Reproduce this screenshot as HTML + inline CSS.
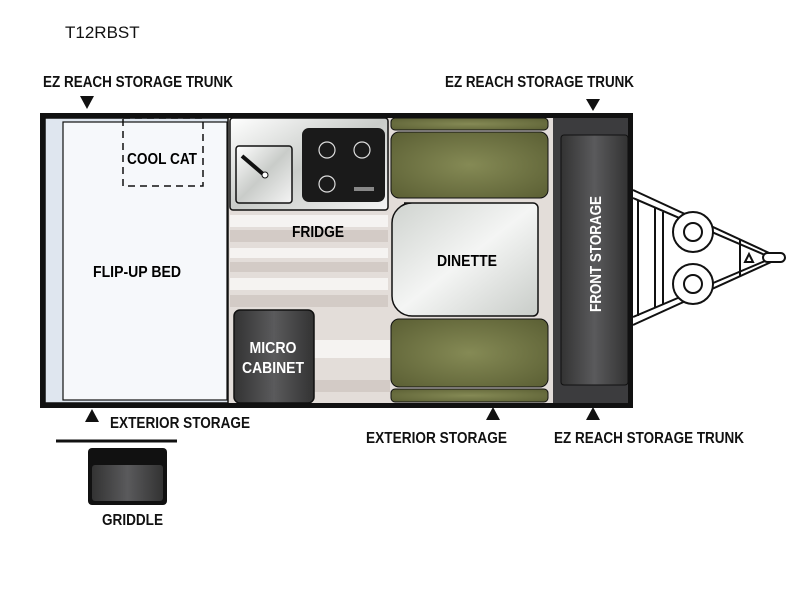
<!DOCTYPE html>
<html><head><style>body{margin:0;background:#fff}svg{display:block}</style></head><body>
<svg width="800" height="600" viewBox="0 0 800 600" xmlns="http://www.w3.org/2000/svg">
<defs>
<linearGradient id="steel" x1="0" y1="0" x2="1" y2="1"><stop offset="0" stop-color="#fff"/><stop offset="0.5" stop-color="#c9ccc9"/><stop offset="1" stop-color="#f4f4f4"/></linearGradient>
<linearGradient id="table" x1="0" y1="0" x2="1" y2="1"><stop offset="0" stop-color="#cfd3cf"/><stop offset="0.5" stop-color="#f4f5f4"/><stop offset="1" stop-color="#c8ccc8"/></linearGradient>
<radialGradient id="olive" cx="0.5" cy="0.5" r="0.7"><stop offset="0" stop-color="#858a55"/><stop offset="1" stop-color="#5b5f34"/></radialGradient>
<linearGradient id="dark" x1="0" y1="0" x2="1" y2="0"><stop offset="0" stop-color="#333"/><stop offset="0.5" stop-color="#5a5a5c"/><stop offset="1" stop-color="#333"/></linearGradient>
</defs>
<g font-family="Liberation Sans, sans-serif">
<text x="65" y="38" font-size="17" fill="#111">T12RBST</text>
<g font-weight="bold" font-size="16" fill="#111">
<text x="43" y="87" textLength="190" lengthAdjust="spacingAndGlyphs">EZ REACH STORAGE TRUNK</text>
<text x="445" y="87" textLength="189" lengthAdjust="spacingAndGlyphs">EZ REACH STORAGE TRUNK</text>
<text x="110" y="428" textLength="140" lengthAdjust="spacingAndGlyphs">EXTERIOR STORAGE</text>
<text x="366" y="443" textLength="141" lengthAdjust="spacingAndGlyphs">EXTERIOR STORAGE</text>
<text x="554" y="443" textLength="190" lengthAdjust="spacingAndGlyphs">EZ REACH STORAGE TRUNK</text>
<text x="102" y="525" textLength="61" lengthAdjust="spacingAndGlyphs">GRIDDLE</text>
</g>
</g>
<!-- arrows -->
<g fill="#111">
<polygon points="80,96 94,96 87,109"/>
<polygon points="586,99 600,99 593,111"/>
<polygon points="85,422 99,422 92,409"/>
<polygon points="486,420 500,420 493,407"/>
<polygon points="586,420 600,420 593,407"/>
</g>
<!-- tongue -->
<g stroke="#111" stroke-width="2" fill="none">
<line x1="633" y1="190" x2="780" y2="258"/>
<line x1="633" y1="198" x2="772" y2="258"/>
<line x1="633" y1="325" x2="780" y2="258"/>
<line x1="633" y1="317" x2="772" y2="258"/>
<line x1="638" y1="200" x2="638" y2="316"/>
<line x1="655" y1="208" x2="655" y2="308"/>
<line x1="663" y1="212" x2="663" y2="304"/>
<line x1="740" y1="240" x2="740" y2="276"/>
<circle cx="693" cy="232" r="20" fill="#fff"/>
<circle cx="693" cy="284" r="20" fill="#fff"/>
<circle cx="693" cy="232" r="9"/>
<circle cx="693" cy="284" r="9"/>
<rect x="763" y="253" width="22" height="9" rx="4.5" fill="#fff"/>
<path d="M745,262 l4,-8 l4,8 z"/>
</g>
<!-- body -->
<rect x="40" y="113" width="593" height="295" fill="#111"/>
<rect x="45" y="118" width="508" height="285" fill="#e3ddd9"/>
<g fill="#d3cbc6"><rect x="230" y="230" width="158" height="12"/><rect x="230" y="262" width="158" height="10"/><rect x="230" y="295" width="158" height="12"/><rect x="310" y="380" width="80" height="12"/></g>
<g fill="#f5f3f1"><rect x="230" y="215" width="158" height="12"/><rect x="230" y="248" width="158" height="10"/><rect x="230" y="278" width="158" height="12"/><rect x="310" y="340" width="80" height="18"/></g>
<!-- bed -->
<rect x="45" y="118" width="183" height="285" fill="#dfe6ef" stroke="#111" stroke-width="1.5"/>
<rect x="63" y="122" width="164" height="278" fill="#f6f8fb" stroke="#111" stroke-width="1.2"/>
<rect x="123" y="118" width="80" height="68" fill="none" stroke="#111" stroke-width="1.5" stroke-dasharray="7,5"/>
<text x="162" y="164" font-family="Liberation Sans, sans-serif" font-weight="bold" font-size="16" text-anchor="middle" textLength="70" lengthAdjust="spacingAndGlyphs">COOL CAT</text>
<text x="137" y="277" font-family="Liberation Sans, sans-serif" font-weight="bold" font-size="16" text-anchor="middle" textLength="88" lengthAdjust="spacingAndGlyphs">FLIP-UP BED</text>
<!-- kitchen -->
<rect x="230" y="118" width="158" height="92" rx="3" fill="url(#steel)" stroke="#111" stroke-width="1.5"/>
<rect x="236" y="146" width="56" height="57" rx="3" fill="url(#steel)" stroke="#111" stroke-width="1.5"/>
<line x1="242" y1="156" x2="263" y2="174" stroke="#111" stroke-width="4"/>
<circle cx="265" cy="175" r="3" fill="#fff" stroke="#111"/>
<rect x="302" y="128" width="83" height="74" rx="7" fill="#1a1a1a"/>
<g stroke="#ddd" stroke-width="1.2" fill="none"><circle cx="327" cy="150" r="8"/><circle cx="362" cy="150" r="8"/><circle cx="327" cy="184" r="8"/></g>
<rect x="354" y="187" width="20" height="4" fill="#888"/>
<text x="318" y="237" font-family="Liberation Sans, sans-serif" font-weight="bold" font-size="16" text-anchor="middle" textLength="52" lengthAdjust="spacingAndGlyphs">FRIDGE</text>
<rect x="234" y="310" width="80" height="93" rx="6" fill="url(#dark)" stroke="#111" stroke-width="1.5"/>
<g font-family="Liberation Sans, sans-serif" font-weight="bold" font-size="16" fill="#fff" text-anchor="middle"><text x="273" y="353" textLength="47" lengthAdjust="spacingAndGlyphs">MICRO</text><text x="273" y="373" textLength="62" lengthAdjust="spacingAndGlyphs">CABINET</text></g>
<!-- dinette -->
<rect x="391" y="118" width="157" height="12" rx="4" fill="url(#olive)" stroke="#111"/>
<rect x="391" y="132" width="157" height="66" rx="8" fill="url(#olive)" stroke="#111"/>
<rect x="391" y="319" width="157" height="68" rx="8" fill="url(#olive)" stroke="#111"/>
<rect x="391" y="389" width="157" height="13" rx="4" fill="url(#olive)" stroke="#111"/>
<path d="M404,203 H533 a5,5 0 0 1 5,5 V311 a5,5 0 0 1 -5,5 H412 a20,20 0 0 1 -20,-20 V223 a20,20 0 0 1 20,-20 Z" fill="url(#table)" stroke="#111" stroke-width="1.5"/>
<text x="467" y="266" font-family="Liberation Sans, sans-serif" font-weight="bold" font-size="16" text-anchor="middle" textLength="60" lengthAdjust="spacingAndGlyphs">DINETTE</text>
<!-- front storage -->
<rect x="553" y="118" width="75" height="285" fill="#3c3c3e"/>
<rect x="561" y="135" width="67" height="250" rx="3" fill="url(#dark)" stroke="#111"/>
<text transform="translate(601,254) rotate(-90)" font-family="Liberation Sans, sans-serif" font-weight="bold" font-size="16" fill="#fff" text-anchor="middle" textLength="116" lengthAdjust="spacingAndGlyphs">FRONT STORAGE</text>
<!-- griddle -->
<line x1="56" y1="441" x2="177" y2="441" stroke="#111" stroke-width="3"/>
<rect x="88" y="448" width="79" height="57" rx="4" fill="#111"/>
<rect x="92" y="465" width="71" height="36" rx="3" fill="url(#dark)"/>
</svg>
</body></html>
